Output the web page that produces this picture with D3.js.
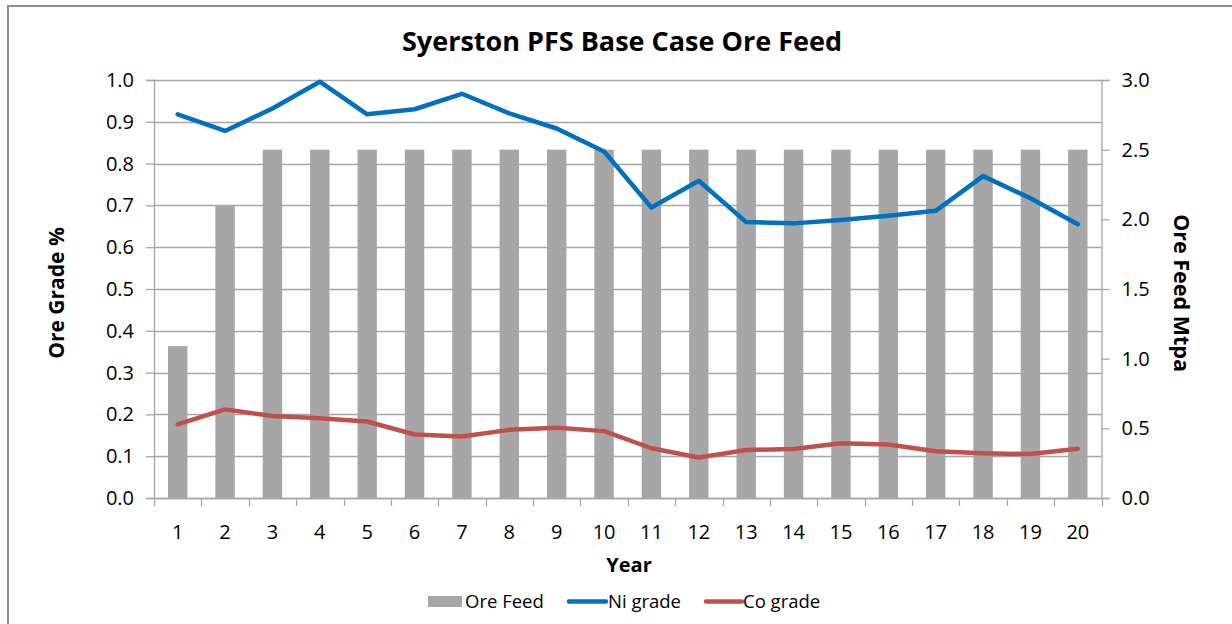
<!DOCTYPE html>
<html>
<head>
	<script src="https://cdn.jsdelivr.net/npm/d3@7"></script>
	<style>
		html, body {
			padding: 0;
			margin: 0;
			background: #ffffff;
		}
		text {
			font-family: "Open Sans", "Noto Sans", sans-serif;
			fill: #000000;
		}
	</style>
</head>
<body>
	<script>
		// chart values
		var years = [1, 2, 3, 4, 5, 6, 7, 8, 9, 10, 11, 12, 13, 14, 15, 16, 17, 18, 19, 20];
		var oreFeed = [1.09, 2.1, 2.5, 2.5, 2.5, 2.5, 2.5, 2.5, 2.5, 2.5, 2.5, 2.5, 2.5, 2.5, 2.5, 2.5, 2.5, 2.5, 2.5, 2.5];
		var niGrade = [0.918, 0.878, 0.932, 0.996, 0.918, 0.930, 0.967, 0.920, 0.884, 0.829, 0.695, 0.759, 0.660, 0.657, 0.665, 0.675, 0.687, 0.770, 0.717, 0.655];
		var coGrade = [0.176, 0.212, 0.196, 0.191, 0.183, 0.152, 0.147, 0.163, 0.168, 0.160, 0.119, 0.097, 0.115, 0.117, 0.131, 0.128, 0.112, 0.107, 0.105, 0.118];
		var leftTicks = [0, 0.1, 0.2, 0.3, 0.4, 0.5, 0.6, 0.7, 0.8, 0.9, 1.0];
		var rightTicks = [0, 0.5, 1.0, 1.5, 2.0, 2.5, 3.0];

		var width = 1232, height = 624;
		var plotLeft = 154, plotRight = 1101.5, plotTop = 80, plotBottom = 498;
		var gridColor = '#a6a6a6';

		var svg = d3.select('body').append('svg')
			.attr('width', width)
			.attr('height', height);

		// outer chart frame
		svg.append('rect')
			.attr('x', 8).attr('y', 6)
			.attr('width', width + 10).attr('height', height + 10)
			.attr('fill', '#ffffff')
			.attr('stroke', '#8e8e8e')
			.attr('stroke-width', 2);

		var x = d3.scaleBand()
			.domain(years)
			.range([plotLeft, plotRight])
			.paddingInner(0.59)
			.paddingOuter(0.295);

		var yLeft = d3.scaleLinear().domain([0, 1]).range([plotBottom, plotTop]);
		var yRight = d3.scaleLinear().domain([0, 3]).range([plotBottom, plotTop]);

		// horizontal gridlines
		svg.append('g')
			.selectAll('line')
			.data(leftTicks)
			.join('line')
			.attr('x1', plotLeft).attr('x2', plotRight)
			.attr('y1', d => Math.round(yLeft(d)) + 0.5)
			.attr('y2', d => Math.round(yLeft(d)) + 0.5)
			.attr('stroke', gridColor)
			.attr('stroke-width', 1.3);

		// bars
		svg.append('g')
			.selectAll('rect')
			.data(years)
			.join('rect')
			.attr('x', d => x(d))
			.attr('width', x.bandwidth())
			.attr('y', (d, i) => yRight(oreFeed[i]))
			.attr('height', (d, i) => plotBottom - yRight(oreFeed[i]))
			.attr('fill', '#a6a6a6');

		// left axis
		var axL = svg.append('g')
			.attr('transform', 'translate(' + plotLeft + ',0)')
			.call(d3.axisLeft(yLeft).tickValues(leftTicks).tickFormat(d3.format('.1f')).tickSize(8).tickPadding(12));

		// right axis
		var axR = svg.append('g')
			.attr('transform', 'translate(' + plotRight + ',0)')
			.call(d3.axisRight(yRight).tickValues(rightTicks).tickFormat(d3.format('.1f')).tickSize(8).tickPadding(12));

		// bottom axis: ticks sit between categories
		var step = x.step();
		var boundaries = d3.range(years.length + 1).map(i => plotLeft + i * step);
		var axB = svg.append('g');
		axB.append('line')
			.attr('x1', plotLeft).attr('x2', plotRight)
			.attr('y1', plotBottom + 0.5).attr('y2', plotBottom + 0.5)
			.attr('stroke', gridColor).attr('stroke-width', 1.3);
		axB.selectAll('line.tk')
			.data(boundaries)
			.join('line')
			.attr('class', 'tk')
			.attr('x1', d => Math.round(d) + 0.5).attr('x2', d => Math.round(d) + 0.5)
			.attr('y1', plotBottom).attr('y2', plotBottom + 8)
			.attr('stroke', gridColor).attr('stroke-width', 1.3);
		axB.selectAll('text')
			.data(years)
			.join('text')
			.attr('x', d => x(d) + x.bandwidth() / 2)
			.attr('y', 539)
			.attr('text-anchor', 'middle')
			.style('font-size', '20px')
			.text(d => d);

		[axL, axR].forEach(function (g) {
			g.select('.domain').attr('stroke', gridColor).attr('stroke-width', 1.3);
			g.selectAll('.tick line').attr('stroke', gridColor).attr('stroke-width', 1.3);
			g.selectAll('.tick text')
				.style('font-size', '20px')
				.style('font-family', '"Open Sans", "Noto Sans", sans-serif')
				.attr('fill', '#000000');
		});

		// grade lines
		var line = d3.line()
			.x((d, i) => x(years[i]) + x.bandwidth() / 2)
			.y(d => yLeft(d));

		svg.append('path')
			.datum(niGrade)
			.attr('d', line)
			.attr('fill', 'none')
			.attr('stroke', '#0070c0')
			.attr('stroke-width', 4.5)
			.attr('stroke-linejoin', 'round')
			.attr('stroke-linecap', 'round');

		svg.append('path')
			.datum(coGrade)
			.attr('d', line)
			.attr('fill', 'none')
			.attr('stroke', '#c0504d')
			.attr('stroke-width', 4.5)
			.attr('stroke-linejoin', 'round')
			.attr('stroke-linecap', 'round');

		// titles
		svg.append('text')
			.attr('x', 622).attr('y', 51)
			.attr('text-anchor', 'middle')
			.style('font-size', '27px')
			.style('font-weight', 'bold')
			.text('Syerston PFS Base Case Ore Feed');

		svg.append('text')
			.attr('transform', 'translate(64,293) rotate(-90)')
			.attr('text-anchor', 'middle')
			.style('font-size', '21px')
			.style('font-weight', 'bold')
			.text('Ore Grade %');

		svg.append('text')
			.attr('transform', 'translate(1174,293) rotate(90)')
			.attr('text-anchor', 'middle')
			.style('font-size', '21.5px')
			.style('font-weight', 'bold')
			.text('Ore Feed Mtpa');

		svg.append('text')
			.attr('x', 629).attr('y', 572)
			.attr('text-anchor', 'middle')
			.style('font-size', '20px')
			.style('font-weight', 'bold')
			.text('Year');

		// legend
		var legend = svg.append('g');
		legend.append('rect')
			.attr('x', 428).attr('y', 596)
			.attr('width', 34).attr('height', 11)
			.attr('fill', '#a6a6a6');
		legend.append('text')
			.attr('x', 465).attr('y', 608)
			.style('font-size', '18.5px')
			.text('Ore Feed');

		legend.append('line')
			.attr('x1', 569).attr('x2', 606)
			.attr('y1', 601.5).attr('y2', 601.5)
			.attr('stroke', '#0070c0').attr('stroke-width', 4.5)
			.attr('stroke-linecap', 'round');
		legend.append('text')
			.attr('x', 608).attr('y', 608)
			.style('font-size', '18.5px')
			.text('Ni grade');

		legend.append('line')
			.attr('x1', 706).attr('x2', 742)
			.attr('y1', 601.5).attr('y2', 601.5)
			.attr('stroke', '#c0504d').attr('stroke-width', 4.5)
			.attr('stroke-linecap', 'round');
		legend.append('text')
			.attr('x', 743).attr('y', 608)
			.style('font-size', '18.5px')
			.text('Co grade');
	</script>
</body>
</html>
